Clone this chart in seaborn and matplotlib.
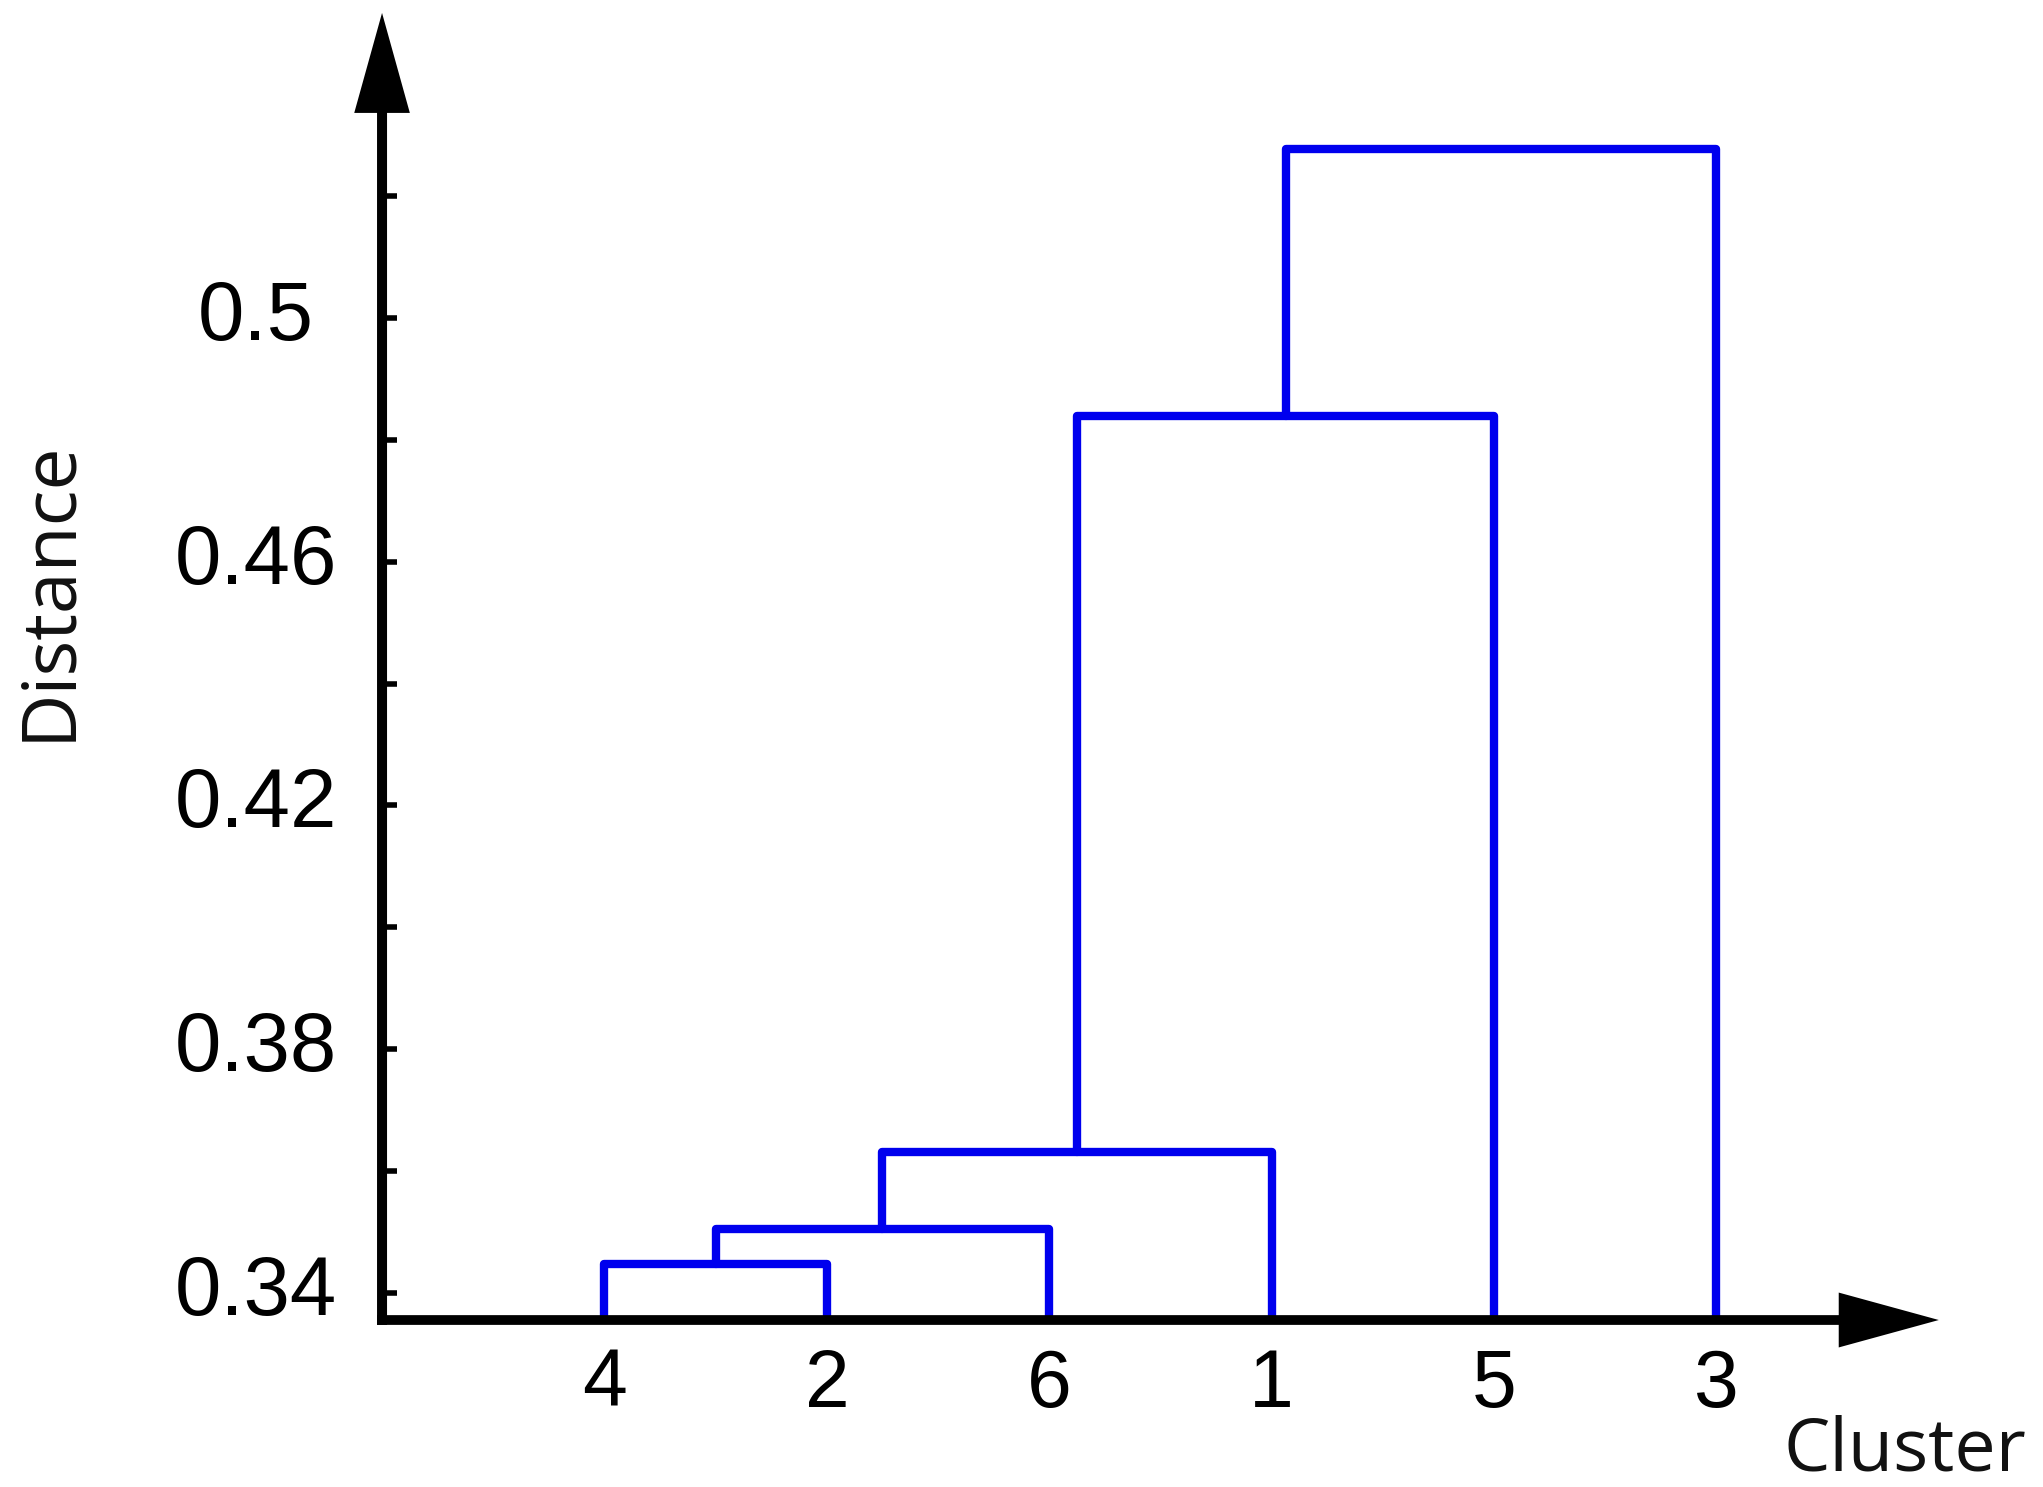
import numpy as np
import pandas as pd

import matplotlib.pyplot as plt
import seaborn as sns

# dendrogram data
leaf_order = ["4", "2", "6", "1", "5", "3"]
merge_left = ["4", "A", "B", "C", "D"]
merge_right = ["2", "6", "1", "5", "3"]
merge_name = ["A", "B", "C", "D", "E"]
merge_height = [0.3448, 0.3505, 0.3631, 0.4839, 0.5277]

y_ticks = [0.34, 0.36, 0.38, 0.40, 0.42, 0.44, 0.46, 0.48, 0.50, 0.52]
y_labels = ["0.34", "", "0.38", "", "0.42", "", "0.46", "", "0.5", ""]

sns.set_theme(style="white")
plt.rcParams["font.family"] = ["Liberation Sans", "DejaVu Sans"]

fig = plt.figure(figsize=(20.43, 14.87), dpi=100)
ax = fig.add_axes([0.187, 0.1123, 0.762, 0.8790])
ymin, ymax = 0.3356, 0.55
ax.set_xlim(0, 7)
ax.set_ylim(ymin, ymax)

# build link segments the way a dendrogram does
pos = {name: i + 1 for i, name in enumerate(leaf_order)}
top = {name: ymin for name in leaf_order}
rows = []
for k, (l, r, h, n) in enumerate(zip(merge_left, merge_right, merge_height, merge_name)):
    xs = [pos[l], pos[l], pos[r], pos[r]]
    ys = [top[l], h, h, top[r]]
    for j, (x, y) in enumerate(zip(xs, ys)):
        rows.append({"link": k, "order": j, "x": x, "y": y})
    pos[n] = (pos[l] + pos[r]) / 2
    top[n] = h
links = pd.DataFrame(rows)

sns.lineplot(data=links, x="x", y="y", units="link", estimator=None, sort=False,
             color="#0000ee", linewidth=6, ax=ax, zorder=2)

for s in ax.spines.values():
    s.set_visible(False)

# arrow axes
ax.arrow(-0.0225, ymin, 7.0225, 0, width=0.0016, head_width=0.0090, head_length=0.45,
         length_includes_head=True, color="black", lw=0, clip_on=False, zorder=3)
ax.arrow(0, ymin - 0.0008, 0, ymax - ymin + 0.0008, width=0.045, head_width=0.25,
         head_length=0.0164, length_includes_head=True, color="black", lw=0,
         clip_on=False, zorder=3)

ax.set_yticks(y_ticks, labels=y_labels)
ax.set_xticks(range(1, len(leaf_order) + 1), labels=leaf_order)
ax.tick_params(axis="y", direction="in", length=11, width=4, color="black",
               pad=91, labelsize=60, labelcolor="black", left=True)
ax.tick_params(axis="x", length=0, pad=20, labelsize=58, labelcolor="black")
for lbl in ax.get_yticklabels():
    lbl.set_horizontalalignment("center")
    lbl.set_verticalalignment("center")
ax.set_xlabel("")
ax.set_ylabel("")

fig.text(0.0245, 0.603, "Distance", rotation=90, ha="center", va="center",
         fontsize=54, family=["Open Sans", "DejaVu Sans"], color="#111111")
fig.text(0.992, 0.0114, "Cluster", ha="right", va="baseline",
         fontsize=53, family=["Open Sans", "DejaVu Sans"], color="#111111")

fig.savefig("out.png", dpi=100, facecolor="white")
